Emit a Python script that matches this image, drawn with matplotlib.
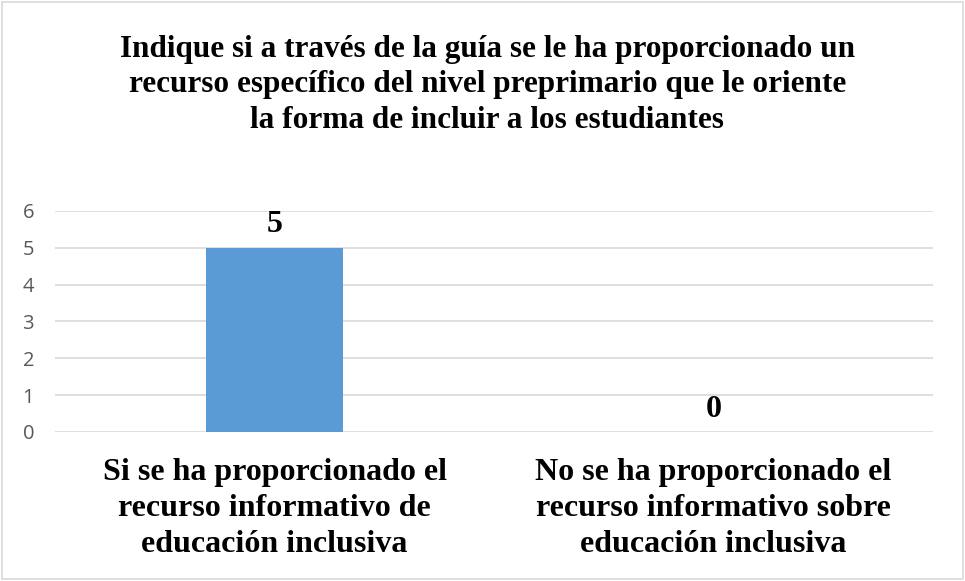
import matplotlib.pyplot as plt
from matplotlib.patches import Rectangle

# data
categories = ["Si se ha proporcionado el\nrecurso informativo de\neducación inclusiva",
              "No se ha proporcionado el\nrecurso informativo sobre\neducación inclusiva"]
values = [5, 0]
yticks = [0, 1, 2, 3, 4, 5, 6]
title = ("Indique si a través de la guía se le ha proporcionado un\n"
         "recurso específico del nivel preprimario que le oriente\n"
         "la forma de incluir a los estudiantes")

serif = "Liberation Serif"

fig = plt.figure(figsize=(9.65, 5.81), dpi=100)
ax = fig.add_axes([0.057, 0.2565, 0.91, 0.3805])

x = list(range(len(categories)))
bars = ax.bar(x, values, width=0.314, color="#5B9BD5", zorder=3)

ax.set_xlim(-0.5, 1.5)
ax.set_ylim(0, 6)
ax.set_yticks(yticks)
ax.set_yticklabels([str(t) for t in yticks], fontfamily="Open Sans",
                   fontsize=14.5, color="#595959")
ax.tick_params(axis="y", length=0, pad=15)
ax.set_xticks(x)
ax.set_xticklabels(categories, fontfamily=serif, fontweight="bold",
                   fontsize=23, linespacing=1.3)
ax.tick_params(axis="x", length=0, pad=19)

ax.grid(axis="y", color="#d9d9d9", linewidth=1.2, zorder=0)
for s in ax.spines.values():
    s.set_visible(False)

for xi, v in zip(x, values):
    ax.annotate(str(v), (xi, v), xytext=(0, 6), textcoords="offset points",
                ha="center", va="bottom", fontfamily=serif,
                fontweight="bold", fontsize=23)

fig.text(0.505, 0.94, title, ha="center", va="top", fontfamily=serif,
         fontweight="bold", fontsize=22.5, linespacing=1.3)

fig.patches.append(Rectangle((0.002, 0.003), 0.996, 0.994, transform=fig.transFigure,
                             fill=False, edgecolor="#d9d9d9", linewidth=1.2))

fig.savefig("out.png", dpi=100)
